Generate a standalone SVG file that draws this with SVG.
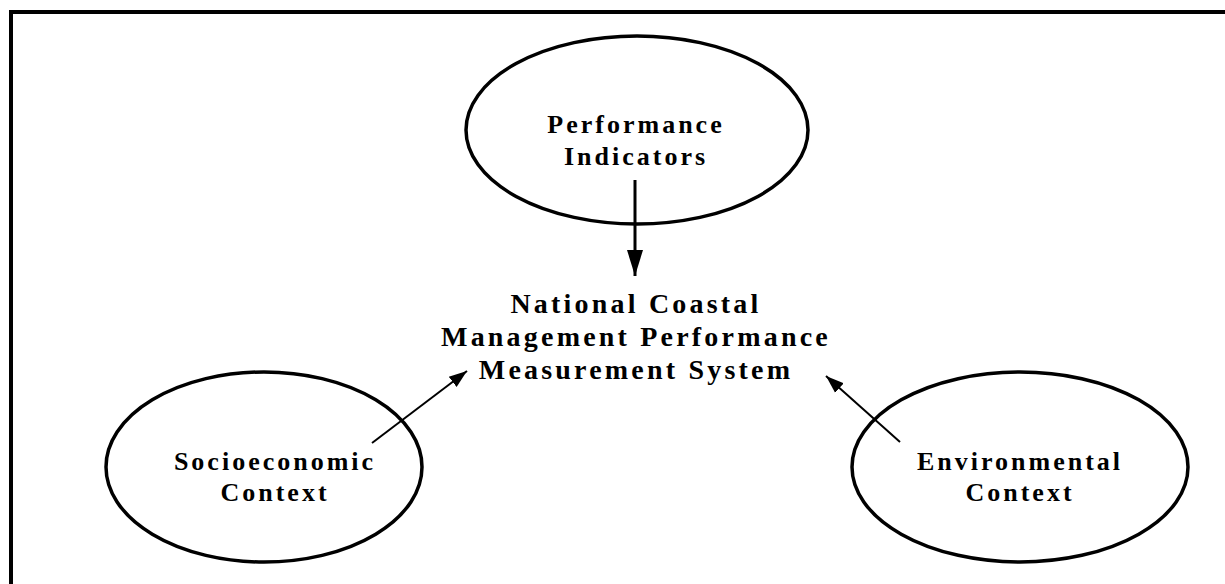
<svg xmlns="http://www.w3.org/2000/svg" width="1225" height="584" viewBox="0 0 1225 584">
<style>
.node{fill:#fff;stroke:#000;stroke-width:3.5}
.lbl{font-family:"Liberation Serif","Times New Roman",serif;font-weight:bold;font-size:26px;letter-spacing:3px;text-anchor:middle;fill:#000}
.main{font-size:28px;letter-spacing:3.2px}
.conn{stroke:#000;fill:none}
</style>
<defs>
<marker id="bigHead" markerUnits="userSpaceOnUse" markerWidth="30" markerHeight="20" refX="26" refY="8" orient="auto" viewBox="0 0 30 16">
<path d="M0,0 L26,8 L0,16 Z" fill="#000"/>
</marker>
<marker id="smallHead" markerUnits="userSpaceOnUse" markerWidth="20" markerHeight="16" refX="18" refY="6.5" orient="auto" viewBox="0 0 20 13">
<path d="M0,0 L18,6.5 L0,13 Z" fill="#000"/>
</marker>
</defs>
<rect x="11" y="12" width="1230" height="600" fill="none" stroke="#000" stroke-width="4"/>
<g id="performance-indicators">
<ellipse class="node" cx="637" cy="130" rx="171" ry="94"/>
<text class="lbl" x="636" y="133">Performance</text>
<text class="lbl" x="636" y="165">Indicators</text>
</g>
<g id="ncmpms">
<text class="lbl main" x="636" y="313">National Coastal</text>
<text class="lbl main" x="636" y="346">Management Performance</text>
<text class="lbl main" x="636" y="379">Measurement System</text>
</g>
<g id="socioeconomic-context">
<ellipse class="node" cx="264" cy="467" rx="158" ry="95"/>
<text class="lbl" x="275" y="470">Socioeconomic</text>
<text class="lbl" x="275" y="501">Context</text>
</g>
<g id="environmental-context">
<ellipse class="node" cx="1020" cy="467" rx="168" ry="95"/>
<text class="lbl" x="1020" y="470">Environmental</text>
<text class="lbl" x="1020" y="501">Context</text>
</g>
<g id="connectors">
<line class="conn" x1="635" y1="180" x2="635" y2="276" stroke-width="3" marker-end="url(#bigHead)"/>
<line class="conn" x1="372" y1="443" x2="467" y2="371" stroke-width="2" marker-end="url(#smallHead)"/>
<line class="conn" x1="900" y1="442" x2="826" y2="376" stroke-width="2" marker-end="url(#smallHead)"/>
</g>
</svg>
